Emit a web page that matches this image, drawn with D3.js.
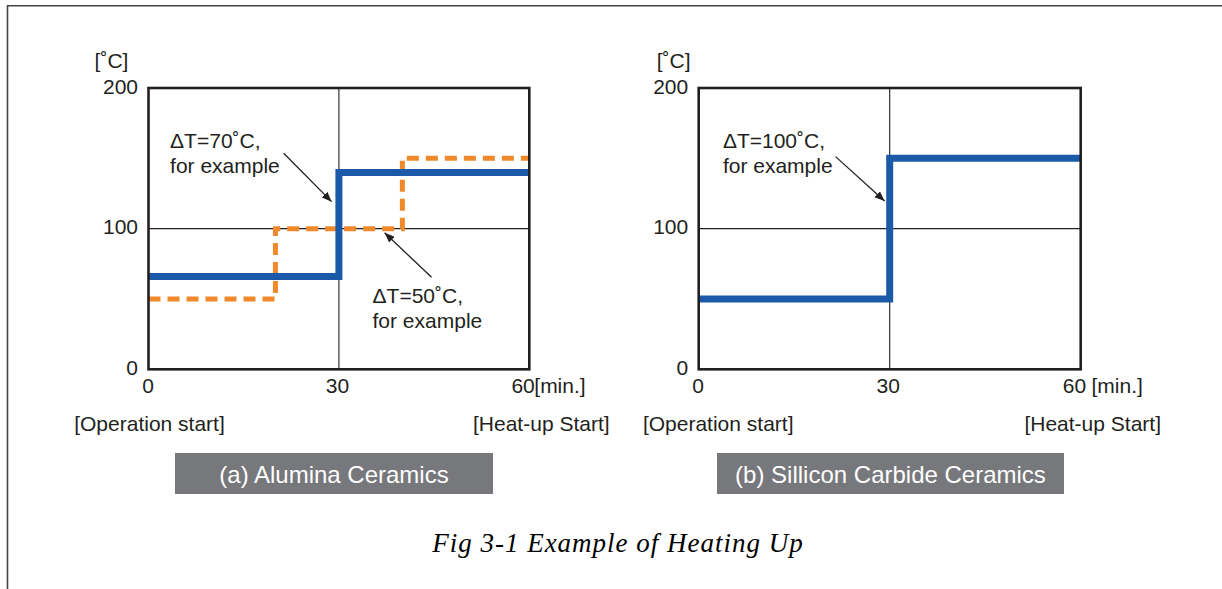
<!DOCTYPE html>
<html>
<head>
<meta charset="utf-8">
<script src="https://cdn.jsdelivr.net/npm/d3@7"></script>
<style>
  html, body { margin: 0; padding: 0; background: #fff; }
  svg { display: block; }
  text { font-family: "Liberation Sans", Arial, Helvetica, sans-serif; fill: #231f20; }
</style>
</head>
<body>
<svg id="chart" width="1222" height="589"></svg>
<script>
// ---------------- data ----------------
const panelTitles = ["(a) Alumina Ceramics", "(b) Sillicon Carbide Ceramics"];
const timeTicks = [0, 30, 60];           // [min.]
const tempTicks = [0, 100, 200];         // [˚C]
const timeDomain = [0, 60];
const tempDomain = [0, 200];
const xUnitLabels = ["[min.]", " [min.]"];
const yUnitLabel = "[˚C]";
const startLabel = "[Operation start]";
const endLabel = "[Heat-up Start]";
const captionText = "Fig 3-1 Example of Heating Up";

// (a) Alumina — blue solid (ΔT=70˚C) and orange dashed (ΔT=50˚C)
const aluminaBlueTime = [0, 30, 60];
const aluminaBlueTemp = [66, 140, 140];
const aluminaOrangeTime = [0, 20, 40, 60];
const aluminaOrangeTemp = [50, 100, 150, 150];
// (b) Silicon carbide — blue solid (ΔT=100˚C)
const sicBlueTime = [0, 30, 60];
const sicBlueTemp = [50, 150, 150];

// annotations (text anchor and arrow in data units: minutes, ˚C)
const annoPanel = [0, 0, 1];
const annoLine1 = ["ΔT=70˚C,", "ΔT=50˚C,", "ΔT=100˚C,"];
const annoLine2 = ["for example", "for example", "for example"];
const annoTextT = [3.4, 35.3, 3.8];
const annoTextV = [157, 47, 157];
const annoFromT = [21.3, 44.6, 21.5];
const annoFromV = [153.6, 65.4, 151.2];
const annoToT = [28.85, 37.2, 29.2];
const annoToV = [119.2, 97.1, 119.7];

// ---------------- layout ----------------
const panels = [
  { left: 148.5, right: 529.3, top: 88, bottom: 369.3, startDx: 1, endDx: 12, unitYDx: -37, boxX: 175, boxW: 318,
    series: [
      { t: aluminaOrangeTime, v: aluminaOrangeTemp, color: "#f0892c", width: 5, dash: "12,7" },
      { t: aluminaBlueTime, v: aluminaBlueTemp, color: "#1b5aa8", width: 7, dash: null }
    ] },
  { left: 698.7, right: 1080.7, top: 88, bottom: 369.3, startDx: 19.5, endDx: 12, unitYDx: -25, boxX: 717, boxW: 347,
    series: [
      { t: sicBlueTime, v: sicBlueTemp, color: "#1b5aa8", width: 7, dash: null }
    ] }
];

const svg = d3.select("#chart");
const ink = "#231f20";

// page border (top and left)
svg.append("path")
  .attr("d", "M7.5,589 L7.5,5.8 L1222,5.8")
  .attr("fill", "none").attr("stroke", "#444").attr("stroke-width", 1.6);

// arrow marker
svg.append("defs").append("marker")
  .attr("id", "arrow")
  .attr("viewBox", "0 0 10 8")
  .attr("refX", 10).attr("refY", 4)
  .attr("markerWidth", 10).attr("markerHeight", 8)
  .attr("markerUnits", "userSpaceOnUse")
  .attr("orient", "auto")
  .append("path").attr("d", "M0,0 L10,4 L0,8 Z").attr("fill", ink);

const scales = [];

panels.forEach((p, i) => {
  const x = d3.scaleLinear().domain(timeDomain).range([p.left, p.right]);
  const y = d3.scaleLinear().domain(tempDomain).range([p.bottom, p.top]);
  scales.push({ x, y });
  const g = svg.append("g");

  // grid lines at 30 min and 100 ˚C
  g.append("line")
    .attr("x1", x(timeTicks[1])).attr("x2", x(timeTicks[1]))
    .attr("y1", y(tempDomain[0])).attr("y2", y(tempDomain[1]))
    .attr("stroke", ink).attr("stroke-width", 1.1);
  g.append("line")
    .attr("x1", x(timeDomain[0])).attr("x2", x(timeDomain[1]))
    .attr("y1", y(tempTicks[1])).attr("y2", y(tempTicks[1]))
    .attr("stroke", ink).attr("stroke-width", 1.1);

  // series
  p.series.forEach(s => {
    const pts = s.t.map((t, k) => [t, s.v[k]]);
    const line = d3.line().x(d => x(d[0])).y(d => y(d[1])).curve(d3.curveStepAfter);
    g.append("path")
      .attr("d", line(pts))
      .attr("fill", "none")
      .attr("stroke", s.color)
      .attr("stroke-width", s.width)
      .attr("stroke-linejoin", "miter")
      .attr("stroke-dasharray", s.dash);
  });

  // frame
  g.append("rect")
    .attr("x", x(timeDomain[0])).attr("y", y(tempDomain[1]))
    .attr("width", x(timeDomain[1]) - x(timeDomain[0]))
    .attr("height", y(tempDomain[0]) - y(tempDomain[1]))
    .attr("fill", "none").attr("stroke", ink).attr("stroke-width", 2.6);

  // y axis
  const ya = g.append("g")
    .attr("transform", `translate(${p.left},0)`)
    .call(d3.axisLeft(y).tickValues(tempTicks).tickSize(0).tickPadding(10.5));
  ya.select(".domain").remove();
  ya.selectAll("text")
    .attr("dy", null).attr("y", 5)
    .style("font-size", "21px").style("font-family", "Liberation Sans, Arial, sans-serif").attr("fill", ink);

  // x axis
  const xa = g.append("g")
    .attr("transform", `translate(0,${p.bottom})`)
    .call(d3.axisBottom(x).tickValues(timeTicks).tickSize(0).tickPadding(0));
  xa.select(".domain").remove();
  xa.selectAll("text")
    .attr("dy", null).attr("y", 24)
    .attr("x", d => d === timeTicks[0] ? -1 : (d === timeTicks[timeTicks.length - 1] ? 5 : -2))
    .attr("text-anchor", d => d === timeTicks[timeTicks.length - 1] ? "end" : "middle")
    .style("font-size", "21px").style("font-family", "Liberation Sans, Arial, sans-serif").attr("fill", ink);

  // x unit
  g.append("text")
    .attr("x", x(timeDomain[1]) + 5).attr("y", p.bottom + 24)
    .style("white-space", "pre")
    .style("font-size", "21px")
    .text(xUnitLabels[i]);

  // y unit
  g.append("text")
    .attr("x", p.left + p.unitYDx).attr("y", 68)
    .attr("text-anchor", "middle")
    .style("font-size", "21px")
    .text(yUnitLabel);

  // start / end labels
  g.append("text")
    .attr("x", x(timeDomain[0]) + p.startDx).attr("y", 431)
    .attr("text-anchor", "middle").style("font-size", "21px")
    .text(startLabel);
  g.append("text")
    .attr("x", x(timeDomain[1]) + p.endDx).attr("y", 431)
    .attr("text-anchor", "middle").style("font-size", "21px")
    .text(endLabel);

  // title box
  g.append("rect")
    .attr("x", p.boxX).attr("y", 453)
    .attr("width", p.boxW).attr("height", 41)
    .attr("fill", "#77787b");
  g.append("text")
    .attr("x", p.boxX + p.boxW / 2).attr("y", 483)
    .attr("text-anchor", "middle")
    .style("font-size", "24px").style("fill", "#ffffff")
    .text(panelTitles[i]);
});

// annotations
annoLine1.forEach((t1, k) => {
  const { x, y } = scales[annoPanel[k]];
  const tx = svg.append("text")
    .attr("x", x(annoTextT[k])).attr("y", y(annoTextV[k]))
    .style("font-size", "21px");
  tx.append("tspan").attr("x", x(annoTextT[k])).text(t1);
  tx.append("tspan").attr("x", x(annoTextT[k])).attr("dy", 24.4).text(annoLine2[k]);
  svg.append("line")
    .attr("x1", x(annoFromT[k])).attr("y1", y(annoFromV[k]))
    .attr("x2", x(annoToT[k])).attr("y2", y(annoToV[k]))
    .attr("stroke", ink).attr("stroke-width", 1.3)
    .attr("marker-end", "url(#arrow)");
});

// caption
svg.append("text")
  .attr("x", 618).attr("y", 552)
  .attr("text-anchor", "middle")
  .style("font-family", "Liberation Serif, 'Times New Roman', serif")
  .style("font-style", "italic")
  .style("font-size", "27px")
  .style("letter-spacing", "1px")
  .style("fill", "#000")
  .text(captionText);
</script>
</body>
</html>
